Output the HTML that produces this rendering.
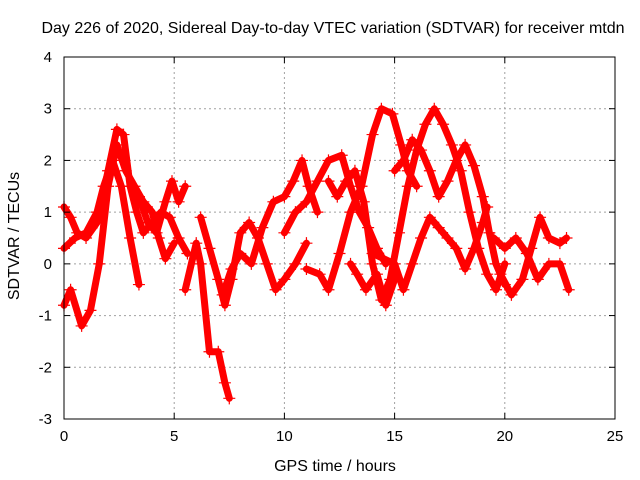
<!DOCTYPE html>
<html><head><meta charset="utf-8"><style>
body{margin:0;background:#fff;}
svg{display:block;font-family:"Liberation Sans",sans-serif;}
</style></head><body>
<svg id="chart" width="640" height="480">
<rect width="640" height="480" fill="#fff"/>
<text x="333" y="33" text-anchor="middle" font-size="16">Day 226 of 2020, Sidereal Day-to-day VTEC variation (SDTVAR) for receiver mtdn</text>
<text transform="translate(19,236) rotate(-90)" text-anchor="middle" font-size="16">SDTVAR / TECUs</text>
<text x="335" y="471" text-anchor="middle" font-size="16">GPS time / hours</text>
<g id="grid"></g><g id="marks"></g><g id="axes"></g>
</svg>
<script>
const xTicks=[0,5,10,15,20,25];
const yTicks=[-3,-2,-1,0,1,2,3,4];
const track1=[[0,1.1],[0.3,0.9],[0.6,0.6],[1.0,0.5],[1.5,0.8],[2.0,1.8],[2.4,2.6],[2.7,2.5],[3.0,1.5],[3.3,1.0],[3.6,0.6],[4.0,0.8],[4.4,1.0],[4.8,0.9],[5.2,0.5],[5.6,0.2]];
const track2=[[0,0.3],[0.5,0.5],[1.0,0.6],[1.5,1.0],[1.8,1.5],[2.2,2.0],[2.6,1.5],[3.0,0.5],[3.4,-0.4]];
const track3=[[0,-0.8],[0.3,-0.5],[0.8,-1.2],[1.2,-0.9],[1.6,0.0],[2.0,1.5],[2.4,2.3],[2.8,1.8],[3.2,1.5],[3.6,1.2],[4.0,1.0],[4.3,0.5],[4.6,0.1],[5.0,0.4]];
const track4=[[3.4,1.3],[3.8,0.8],[4.2,0.6],[4.6,1.2],[4.9,1.6],[5.2,1.2],[5.5,1.5]];
const track5=[[5.5,-0.5],[6.0,0.4],[6.2,0.0],[6.6,-1.7],[7.0,-1.7],[7.3,-2.3],[7.5,-2.6]];
const track6=[[6.2,0.9],[6.6,0.3],[7.0,-0.3],[7.3,-0.8],[7.6,-0.3],[8.0,0.6],[8.4,0.8],[8.8,0.5],[9.2,0.0],[9.6,-0.5],[10.0,-0.3],[10.5,0.0],[11.0,0.4]];
const track7=[[7.2,-0.6],[7.6,-0.1],[8.0,0.2],[8.5,0.0],[9.0,0.7],[9.5,1.2],[10.0,1.3],[10.4,1.6],[10.8,2.0],[11.1,1.5],[11.5,1.0]];
const track8=[[10,0.6],[10.5,1.0],[11,1.2],[11.5,1.6],[12,2.0],[12.6,2.1],[13.0,1.5],[13.4,1.0],[13.8,0.7],[14.2,0.3],[14.6,0.0]];
const track9=[[11,-0.1],[11.6,-0.2],[12,-0.5],[12.5,0.2],[13,1.0],[13.5,1.5],[14,2.5],[14.4,3.0],[14.9,2.9],[15.3,2.3],[15.6,1.8],[16,1.5]];
const track10=[[12,1.6],[12.4,1.3],[12.8,1.6],[13.2,1.8],[13.6,1.2],[14.0,0.0],[14.4,-0.7],[14.8,-0.3],[15.2,0.6],[15.6,1.5],[16.0,2.2],[16.4,2.7],[16.8,3.0],[17.2,2.7],[17.6,2.3],[18,1.8],[18.4,1.0],[18.8,0.3],[19.2,-0.2],[19.6,-0.5],[20,0.0]];
const track11=[[14.0,0.2],[14.5,0.1],[15,0.0],[15.4,-0.5],[15.8,0.0],[16.2,0.5],[16.6,0.9],[17,0.7],[17.4,0.5],[17.8,0.3],[18.2,-0.1],[18.6,0.3],[19,0.8],[19.2,1.1]];
const track12=[[15,1.8],[15.4,2.0],[15.8,2.4],[16.2,2.2],[16.6,1.8],[17,1.3],[17.4,1.6],[17.8,2.0],[18.2,2.3],[18.6,1.9],[19,1.3],[19.3,0.6],[19.6,0.0],[20,-0.4]];
const track13=[[19.5,0.5],[20,0.3],[20.5,0.5],[21,0.2],[21.5,-0.3],[22,0.0],[22.5,0.0],[22.9,-0.5]];
const track14=[[19.8,-0.2],[20.3,-0.6],[20.8,-0.3],[21.2,0.3],[21.6,0.9],[22,0.5],[22.5,0.4],[22.8,0.5]];
const track15=[[13,0.0],[13.3,-0.2],[13.7,-0.5],[14.2,-0.2],[14.6,-0.8],[15.0,-0.3]];
const tracks=[track1,track2,track3,track4,track5,track6,track7,track8,track9,track10,track11,track12,track13,track14,track15];

const L=64,R=615,T=57,B=419;
const xs=v=>L+(v-0)/25*(R-L);
const ys=v=>B-(v+3)/7*(B-T);
const NS="http://www.w3.org/2000/svg";
function mk(tag,attrs,parent){const e=document.createElementNS(NS,tag);for(const k in attrs)e.setAttribute(k,attrs[k]);parent.appendChild(e);return e;}
const grid=document.getElementById('grid'),axes=document.getElementById('axes'),marks=document.getElementById('marks');
xTicks.forEach(t=>{
  const x=xs(t);
  if(t>0&&t<25){const g=mk('line',{x1:x,x2:x,y1:T,y2:B,stroke:'#a0a0a0','stroke-dasharray':'2,3','stroke-width':1},grid);
  
  }
  mk('line',{x1:x,x2:x,y1:B,y2:B-6,stroke:'#000'},axes);
  mk('line',{x1:x,x2:x,y1:T,y2:T+6,stroke:'#000'},axes);
  const tx=mk('text',{x:x,y:B+22,'text-anchor':'middle','font-size':15},axes);tx.textContent=t;
  
  
});
yTicks.forEach(t=>{
  const y=ys(t);
  if(t>-3&&t<4){const g=mk('line',{x1:L,x2:R,y1:y,y2:y,stroke:'#a0a0a0','stroke-dasharray':'2,3','stroke-width':1},grid);
  
  }
  mk('line',{x1:L,x2:L+6,y1:y,y2:y,stroke:'#000'},axes);
  mk('line',{x1:R,x2:R-6,y1:y,y2:y,stroke:'#000'},axes);
  const tx=mk('text',{x:L-12,y:y+5,'text-anchor':'end','font-size':15},axes);tx.textContent=t;
  
  
});
const fr=mk('rect',{x:L,y:T,width:R-L,height:B-T,fill:'none',stroke:'#000','stroke-width':1},axes);


tracks.forEach((tr,i)=>{
  const pl=mk('polyline',{points:tr.map(p=>xs(p[0])+','+ys(p[1])).join(' '),fill:'none',stroke:'#ff0000','stroke-width':7,'stroke-linejoin':'round','stroke-linecap':'round'},marks);
  
  
  tr.forEach(p=>{
    const x=xs(p[0]),y=ys(p[1]);
    const m=mk('path',{d:`M${x-6},${y}h12M${x},${y-6}v12`,stroke:'#ff0000','stroke-width':1.2},marks);
    
    
  });
});
</script>
</body></html>
